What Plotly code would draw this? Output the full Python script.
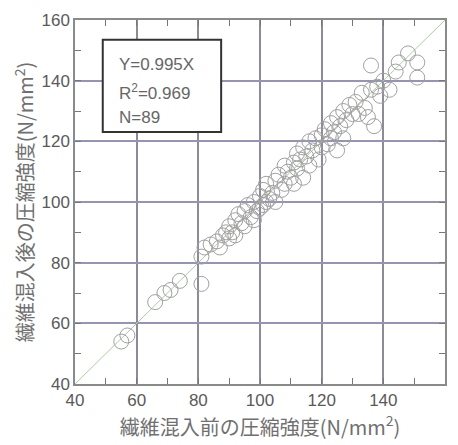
import plotly.graph_objects as go

# Compressive strength before (x) and after (y) fiber addition, N/mm2
strength_before = [
    55, 57, 66, 69, 71, 74, 81, 81, 82, 84, 86, 87, 88, 89, 90, 90, 91, 92, 92, 93,
    94, 95, 95, 96, 97, 98, 98, 99, 100, 100, 101, 101, 102, 102, 103, 104, 105, 105, 106, 107,
    108, 108, 109, 110, 111, 111, 112, 112, 113, 114, 114, 115, 116, 116, 117, 118, 119, 120, 120, 121,
    122, 123, 123, 124, 125, 125, 126, 127, 127, 128, 129, 130, 131, 132, 133, 134, 135, 136, 136, 137,
    138, 139, 140, 142, 144, 145, 148, 151, 151,
]
strength_after = [
    54, 56, 67, 70, 71, 74, 73, 82, 85, 86, 87, 85, 89, 90, 88, 92, 90, 94, 89, 96,
    93, 97, 92, 99, 95, 100, 94, 97, 102, 98, 104, 99, 106, 100, 101, 103, 107, 100, 109, 104,
    112, 106, 110, 108, 113, 106, 116, 111, 114, 108, 118, 115, 120, 112, 117, 121, 114, 122, 118, 124,
    119, 126, 121, 123, 128, 117, 125, 130, 121, 127, 132, 129, 133, 129, 136, 131, 128, 137, 145, 125,
    138, 135, 140, 137, 143, 146, 149, 146, 141,
]

# Equality line Y = X
line_x = [40, 160]
line_y = [40, 160]

axis_range = [40, 160]
# tick marks every 10, labels and grid every 20
tick_values = [40, 50, 60, 70, 80, 90, 100, 110, 120, 130, 140, 150, 160]
tick_labels = ["40", "", "60", "", "80", "", "100", "", "120", "", "140", "", "160"]
grid_values = [40, 60, 80, 100, 120, 140, 160]

stats_lines = ["Y=0.995X", "R<sup>2</sup>=0.969", "N=89"]

fig = go.Figure()

fig.add_trace(go.Scatter(
    x=line_x, y=line_y, mode="lines",
    line=dict(color="#a9cf9a", width=1),
    hoverinfo="skip", showlegend=False,
))

fig.add_trace(go.Scatter(
    x=strength_before, y=strength_after, mode="markers",
    marker=dict(symbol="circle-open", size=15, color="#a0a0a0",
                line=dict(width=1)),
    showlegend=False,
))

tick_font = dict(family="Liberation Sans, Arial, sans-serif", size=17, color="#5a5a5a")
title_font = dict(family="Noto Sans CJK JP, sans-serif", size=20, color="#707070")

common_axis = dict(
    range=axis_range,
    tickmode="array",
    tickvals=tick_values,
    ticktext=tick_labels,
    showgrid=False,
    zeroline=False,
    showline=True,
    linewidth=1.5,
    linecolor="#8a8a8a",
    mirror="ticks",
    ticks="inside",
    ticklen=6,
    tickwidth=1,
    tickcolor="#777777",
    tickfont=tick_font,
)

fig.update_xaxes(
    **common_axis,
    minor=dict(tickmode="array", tickvals=grid_values, ticks="", showgrid=True,
               gridcolor="#8e8a98", gridwidth=1.5),
    title=dict(text="繊維混入前の圧縮強度(N/mm<sup>2</sup>)", font=title_font, standoff=2),
)
fig.update_yaxes(
    **common_axis,
    minor=dict(tickmode="array", tickvals=grid_values, ticks="", showgrid=True,
               gridcolor="#9494b8", gridwidth=1.5),
    title=dict(text="繊維混入後の圧縮強度(N/mm<sup>2</sup>)", font=title_font, standoff=2),
)

# Statistics box
fig.add_shape(
    type="rect", xref="paper", yref="paper",
    x0=0.075, x1=0.395, y0=0.692, y1=0.9455,
    line=dict(color="#333333", width=2), fillcolor="white", layer="above",
)
for text, ypos in zip(stats_lines, [0.877, 0.801, 0.733]):
    fig.add_annotation(
        text=text, xref="paper", yref="paper", x=0.113, y=ypos,
        xanchor="left", yanchor="middle", showarrow=False,
        font=dict(family="Liberation Sans, Arial, sans-serif", size=17, color="#666666"),
    )

fig.update_layout(
    width=458, height=445,
    margin=dict(l=75, r=11, t=17, b=61),
    plot_bgcolor="white", paper_bgcolor="white",
)

fig.write_html("out.html")
